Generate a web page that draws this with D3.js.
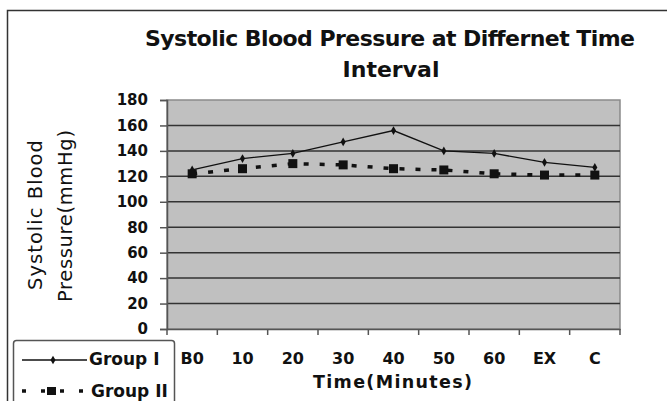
<!DOCTYPE html>
<html>
<head>
<meta charset="utf-8">
<script src="https://cdn.jsdelivr.net/npm/d3@7"></script>
<style>
  body { margin: 0; background: #fff; }
  svg { display: block; font-family: "DejaVu Sans", sans-serif; }
</style>
</head>
<body>
<svg id="chart"></svg>
<script>
const width = 667, height = 401;

// data
const categories = ["B0", "10", "20", "30", "40", "50", "60", "EX", "C"];
const groupI = [125, 134, 138, 147, 156, 140, 138, 131, 127];
const groupII = [122, 126, 130, 129, 126, 125, 122, 121, 121];
const yTicks = [0, 20, 40, 60, 80, 100, 120, 140, 160, 180];

const margin = {left: 167, right: 47, top: 100, bottom: 72};

const svg = d3.select("#chart")
    .attr("width", width)
    .attr("height", height);

// outer chart frame
svg.append("rect")
    .attr("x", 7.5).attr("y", 10.5)
    .attr("width", width).attr("height", height)
    .attr("fill", "#fff")
    .attr("stroke", "#333").attr("stroke-width", 1.5);

const x = d3.scaleBand()
    .domain(categories)
    .range([margin.left, width - margin.right]);

const y = d3.scaleLinear()
    .domain([0, 180])
    .range([height - margin.bottom, margin.top]);

// plot area
svg.append("rect")
    .attr("x", x.range()[0]).attr("y", y(180))
    .attr("width", x.range()[1] - x.range()[0])
    .attr("height", y(0) - y(180))
    .attr("fill", "#c0c0c0")
    .attr("stroke", "#8a8a8a").attr("stroke-width", 1.5);

// gridlines
svg.append("g")
  .selectAll("line")
  .data(yTicks.filter(d => d > 0 && d < 180))
  .join("line")
    .attr("x1", x.range()[0]).attr("x2", x.range()[1])
    .attr("y1", d => y(d)).attr("y2", d => y(d))
    .attr("stroke", "#333").attr("stroke-width", 1.5);

// y axis
const yAxis = svg.append("g")
    .attr("transform", `translate(${margin.left},0)`)
    .call(d3.axisLeft(y).tickValues(yTicks).tickSize(7).tickPadding(12));
yAxis.select(".domain").attr("stroke", "#555").attr("stroke-width", 1.5);
yAxis.selectAll(".tick line").attr("stroke", "#555").attr("stroke-width", 1.5);
yAxis.selectAll(".tick text")
    .attr("font-size", 15).attr("font-weight", "bold")
    .attr("font-family", "DejaVu Sans").attr("fill", "#111");

// x axis
const xAxis = svg.append("g")
    .attr("transform", `translate(0,${y(0)})`)
    .call(d3.axisBottom(x).tickSize(0).tickPadding(24));
xAxis.select(".domain").attr("stroke", "#555").attr("stroke-width", 1.5);
xAxis.selectAll(".tick text")
    .attr("font-size", 16).attr("font-weight", "bold")
    .attr("font-family", "DejaVu Sans").attr("fill", "#111");
// category boundary ticks
xAxis.selectAll(".bound")
  .data(categories.concat(["end"]))
  .join("line")
    .attr("class", "bound")
    .attr("x1", (d, i) => x.range()[0] + i * x.bandwidth())
    .attr("x2", (d, i) => x.range()[0] + i * x.bandwidth())
    .attr("y1", 0).attr("y2", 6)
    .attr("stroke", "#555").attr("stroke-width", 1.5);

const cx = d => x(d) + x.bandwidth() / 2;

// Group I: thin solid line with small diamonds
const line1 = d3.line().x((d, i) => cx(categories[i])).y(d => y(d));
svg.append("path")
    .datum(groupI)
    .attr("d", line1)
    .attr("fill", "none").attr("stroke", "#111").attr("stroke-width", 1.3);
svg.append("g")
  .selectAll("path")
  .data(groupI)
  .join("path")
    .attr("transform", (d, i) => `translate(${cx(categories[i])},${y(d)})`)
    .attr("d", d3.symbol(d3.symbolDiamond, 22))
    .attr("fill", "#111");

// Group II: heavy dashed line with squares
svg.append("path")
    .datum(groupII)
    .attr("d", line1)
    .attr("fill", "none").attr("stroke", "#111").attr("stroke-width", 3.5)
    .attr("stroke-dasharray", "5,11");
svg.append("g")
  .selectAll("rect")
  .data(groupII)
  .join("rect")
    .attr("x", (d, i) => cx(categories[i]) - 4.5)
    .attr("y", d => y(d) - 4.5)
    .attr("width", 9).attr("height", 9)
    .attr("fill", "#111");

// title
svg.append("text")
    .attr("x", 145).attr("y", 46)
    .attr("font-weight", "bold").attr("font-size", 22).attr("fill", "#111")
    .attr("textLength", 490).attr("lengthAdjust", "spacing")
    .text("Systolic Blood Pressure at Differnet Time");
svg.append("text")
    .attr("x", 391).attr("y", 77)
    .attr("text-anchor", "middle")
    .attr("font-weight", "bold").attr("font-size", 22).attr("fill", "#111")
    .text("Interval");

// y axis title
const yTitle = svg.append("g")
    .attr("transform", "translate(0,215) rotate(-90)");
yTitle.append("text")
    .attr("x", -75).attr("y", 42)
    .attr("font-size", 19.5).attr("fill", "#111")
    .attr("textLength", 150).attr("lengthAdjust", "spacing")
    .text("Systolic Blood");
yTitle.append("text")
    .attr("x", -87).attr("y", 72)
    .attr("font-size", 19.5).attr("fill", "#111")
    .attr("textLength", 172).attr("lengthAdjust", "spacing")
    .text("Pressure(mmHg)");

// x axis title
svg.append("text")
    .attr("x", 313).attr("y", 388)
    .attr("font-size", 17.5).attr("font-weight", "bold").attr("fill", "#111")
    .attr("textLength", 159).attr("lengthAdjust", "spacing")
    .text("Time(Minutes)");

// legend
const legend = svg.append("g");
legend.append("rect")
    .attr("x", 13.5).attr("y", 340.5)
    .attr("width", 161).attr("height", 80)
    .attr("rx", 3)
    .attr("fill", "#fff").attr("stroke", "#555").attr("stroke-width", 1.5);
legend.append("line")
    .attr("x1", 22).attr("x2", 87).attr("y1", 360).attr("y2", 360)
    .attr("stroke", "#111").attr("stroke-width", 1.3);
legend.append("path")
    .attr("transform", "translate(53,360)")
    .attr("d", d3.symbol(d3.symbolDiamond, 22))
    .attr("fill", "#111");
legend.append("line")
    .attr("x1", 22).attr("x2", 88).attr("y1", 391).attr("y2", 391)
    .attr("stroke", "#111").attr("stroke-width", 3.5)
    .attr("stroke-dasharray", "4,15");
legend.append("rect")
    .attr("x", 47).attr("y", 387).attr("width", 9).attr("height", 8)
    .attr("fill", "#111");
legend.selectAll("text")
  .data(["Group I", "Group II"])
  .join("text")
    .attr("x", (d, i) => 89 + i * 2).attr("y", (d, i) => 365 + i * 32)
    .attr("font-size", 17).attr("font-weight", "bold")
    .attr("fill", "#111")
    .text(d => d);
</script>
</body>
</html>
